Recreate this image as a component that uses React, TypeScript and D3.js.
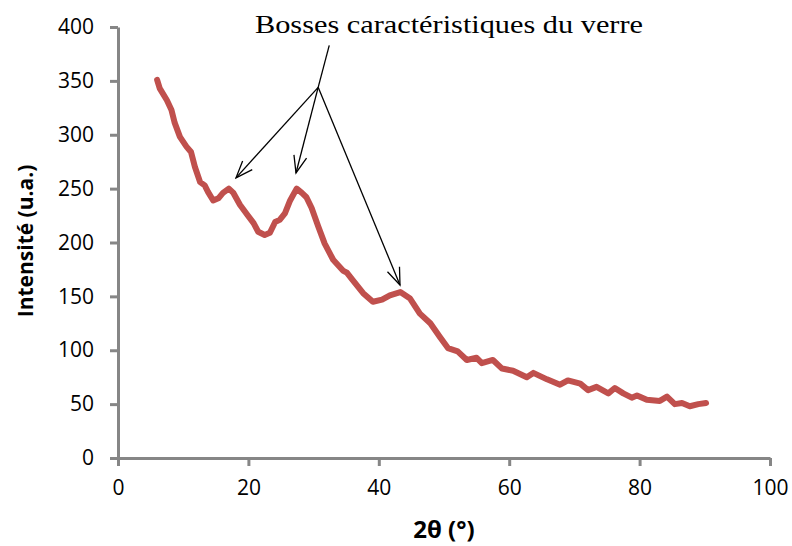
import React, { useEffect, useRef } from 'react';
import * as d3 from 'd3';

// diffractogram: 2theta (deg) and intensity (a.u.)
const twoTheta = [6.0, 6.4, 7.5, 8.2, 8.7, 9.5, 10.5, 11.2, 11.8, 12.6, 13.3, 13.8, 14.6, 15.4, 16.1, 17.0, 17.7, 18.7, 19.8, 20.8, 21.5, 22.5, 23.3, 24.1, 24.8, 25.6, 26.4, 27.4, 28.2, 28.9, 29.7, 30.7, 31.7, 33.0, 34.5, 35.1, 36.0, 37.6, 39.1, 40.5, 41.7, 43.3, 44.8, 46.3, 47.9, 49.4, 50.6, 52.1, 53.5, 55.0, 55.8, 57.5, 58.9, 60.6, 62.7, 63.7, 65.8, 67.8, 69.0, 70.9, 72.1, 73.4, 75.2, 76.2, 77.5, 78.8, 79.6, 81.1, 83.1, 84.2, 85.4, 86.5, 87.7, 89.0, 90.2];
const intensity = [351, 343, 332, 323, 311, 298, 289, 284, 270, 256, 253, 247, 239, 241, 246, 250, 246, 235, 226, 218, 210, 207, 209, 219, 221, 227, 239, 250, 246, 242, 232, 215, 199, 184, 174, 172, 165, 153, 145, 147, 151, 154, 148, 134, 125, 112, 102, 99, 91, 93, 88, 91, 83, 81, 75, 79, 73, 68, 72, 69, 63, 66, 60, 65, 60, 56, 58, 54, 53, 57, 50, 51, 48, 50, 51];

const xTicks = [0, 20, 40, 60, 80, 100];
const yTicks = [0, 50, 100, 150, 200, 250, 300, 350, 400];

// annotation: hub point and the three humps it points at
const hub = [30.7, 344];
const hubTop = [32.4, 383];
const humps = [[18.1, 260], [27.3, 264.5], [43.25, 160.6]];
const noteText = 'Bosses caractéristiques du verre';

export default function App() {
  const ref = useRef<SVGSVGElement>(null);

  useEffect(() => {
    const svg = d3.select(ref.current);
    svg.selectAll('*').remove();

    const x = d3.scaleLinear().domain([0, 100]).range([118, 770]);
    const y = d3.scaleLinear().domain([0, 400]).range([458, 27]);
    const axisColor = '#868686';
    const tickFont = '"Open Sans", sans-serif';

    const defs = svg.append('defs');
    defs.append('marker')
      .attr('id', 'vhead')
      .attr('markerUnits', 'userSpaceOnUse')
      .attr('viewBox', '-18 -8 20 16')
      .attr('markerWidth', 20)
      .attr('markerHeight', 16)
      .attr('refX', 0)
      .attr('refY', 0)
      .attr('orient', 'auto')
      .append('path')
      .attr('d', 'M-17,-6.5 L0,0 L-17,6.5')
      .attr('fill', 'none')
      .attr('stroke', 'black')
      .attr('stroke-width', 1.3);

    // y axis
    const gy = svg.append('g').attr('transform', 'translate(118,0)')
      .call(d3.axisLeft(y).tickValues(yTicks).tickSize(8).tickPadding(16).tickSizeOuter(0));
    gy.select('.domain').attr('stroke', axisColor).attr('stroke-width', 3);
    gy.selectAll('.tick line').attr('stroke', axisColor).attr('stroke-width', 3);
    gy.selectAll('.tick text').attr('font-family', tickFont).attr('font-size', 21).attr('fill', 'black');

    // x axis
    const gx = svg.append('g').attr('transform', 'translate(0,458)')
      .call(d3.axisBottom(x).tickValues(xTicks).tickSize(8).tickPadding(14).tickSizeOuter(0));
    gx.select('.domain').attr('stroke', axisColor).attr('stroke-width', 3);
    gx.selectAll('.tick line').attr('stroke', axisColor).attr('stroke-width', 3);
    gx.selectAll('.tick text').attr('font-family', tickFont).attr('font-size', 21).attr('fill', 'black');

    // axis titles
    svg.append('text')
      .attr('transform', 'translate(33,241) rotate(-90)')
      .attr('text-anchor', 'middle')
      .attr('font-family', tickFont)
      .attr('font-weight', 'bold')
      .attr('font-size', 21)
      .text('Intensité (u.a.)');

    svg.append('text')
      .attr('x', 444)
      .attr('y', 538)
      .attr('text-anchor', 'middle')
      .attr('font-family', tickFont)
      .attr('font-weight', 'bold')
      .attr('font-size', 24)
      .text('2θ (°)');

    // the curve
    const pts = twoTheta.map((t, i) => [t, intensity[i]] as [number, number]);
    const line = d3.line<[number, number]>().x(d => x(d[0])).y(d => y(d[1]));
    svg.append('path')
      .datum(pts)
      .attr('d', line)
      .attr('fill', 'none')
      .attr('stroke', '#c0504d')
      .attr('stroke-width', 6)
      .attr('stroke-linejoin', 'round')
      .attr('stroke-linecap', 'round');

    // annotation
    svg.append('line')
      .attr('x1', x(hub[0])).attr('y1', y(hub[1]))
      .attr('x2', x(hubTop[0])).attr('y2', y(hubTop[1]))
      .attr('stroke', 'black').attr('stroke-width', 1.3);

    svg.selectAll('.arrow').data(humps).enter()
      .append('line')
      .attr('class', 'arrow')
      .attr('x1', x(hub[0])).attr('y1', y(hub[1]))
      .attr('x2', d => x(d[0])).attr('y2', d => y(d[1]))
      .attr('stroke', 'black').attr('stroke-width', 1.3)
      .attr('marker-end', 'url(#vhead)');

    svg.append('text')
      .attr('x', 255)
      .attr('y', 33)
      .attr('font-family', '"Liberation Serif", serif')
      .attr('font-size', 26)
      .attr('textLength', 388)
      .attr('lengthAdjust', 'spacingAndGlyphs')
      .text(noteText);
  }, []);

  return (
    <svg ref={ref} width={792} height={546}
      style={{ position: 'absolute', left: 0, top: 0, background: 'white' }} />
  );
}
